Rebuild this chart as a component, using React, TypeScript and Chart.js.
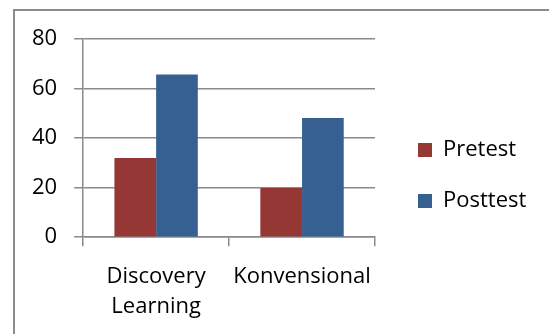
import React, { useEffect, useRef } from "react";
import { Chart, registerables } from "chart.js";

Chart.register(...registerables);

const categories: (string | string[])[] = [["Discovery", "Learning"], "Konvensional"];
const pretest = [32, 19.8];
const posttest = [65.7, 48.1];
const yTicks = [0, 20, 40, 60, 80];

const FONT = "'Open Sans', Lato, sans-serif";
const FS = 22;
const GRID = "#8a8a8a";

export default function App() {
  const ref = useRef<HTMLCanvasElement | null>(null);
  useEffect(() => {
    if (!ref.current) return;
    const chart = new Chart(ref.current, {
      type: "bar",
      data: {
        labels: categories,
        datasets: [
          { label: "Pretest", data: pretest, backgroundColor: "#953735", yAxisID: "y" },
          { label: "Posttest", data: posttest, backgroundColor: "#376092", yAxisID: "y" },
        ],
      },
      options: {
        responsive: false,
        animation: false,
        devicePixelRatio: 1,
        layout: { padding: { left: 15, top: 13, right: 20, bottom: 1 } },
        datasets: { bar: { categoryPercentage: 2 / 3.5, barPercentage: 1 } },
        plugins: {
          tooltip: { enabled: false },
          legend: {
            position: "right",
            align: "center",
            maxWidth: 140,
            labels: {
              boxWidth: 14,
              boxHeight: 14,
              padding: 29,
              color: "#000",
              font: { family: FONT, size: FS },
            },
          },
        },
        scales: {
          x: {
            offset: true,
            grid: {
              offset: true,
              drawOnChartArea: false,
              drawTicks: true,
              tickLength: 9,
              color: GRID,
              lineWidth: 1.5,
            },
            border: { display: true, color: GRID, width: 1.5 },
            ticks: {
              color: "#000",
              padding: 16,
              maxRotation: 0,
              autoSkip: false,
              font: { family: FONT, size: FS, lineHeight: 1.36 },
            },
          },
          y: {
            min: 0,
            max: 80,
            afterBuildTicks: (s: any) => {
              s.ticks = yTicks.map((v) => ({ value: v }));
            },
            grid: { color: GRID, lineWidth: 1.5, drawTicks: true, tickLength: 9 },
            border: { display: true, color: GRID, width: 1.5 },
            ticks: {
              color: "#000",
              padding: 17,
              font: { family: FONT, size: FS },
            },
          },
          yRight: {
            type: "linear",
            position: "right",
            display: true,
            grid: { display: false },
            border: { display: false },
            ticks: { display: false },
            afterFit: (s: any) => {
              s.width = 14;
            },
          },
          xTop: {
            type: "linear",
            position: "top",
            display: true,
            grid: { display: false },
            border: { display: false },
            ticks: { display: false },
            afterFit: (s: any) => {
              s.height = 26;
            },
          },
        },
      },
    });
    return () => chart.destroy();
  }, []);

  return (
    <div
      style={{
        position: "fixed",
        left: 0,
        top: 0,
        width: 549,
        height: 334,
        overflow: "hidden",
        background: "#fff",
      }}
    >
      <div
        style={{
          position: "absolute",
          left: 13,
          top: 9,
          width: 600,
          height: 400,
          border: "2px solid #8c8c8c",
        }}
      />
      <canvas
        ref={ref}
        width={549}
        height={339}
        style={{ position: "absolute", left: 0, top: 0, width: 549, height: 339, display: "block" }}
      />
    </div>
  );
}
